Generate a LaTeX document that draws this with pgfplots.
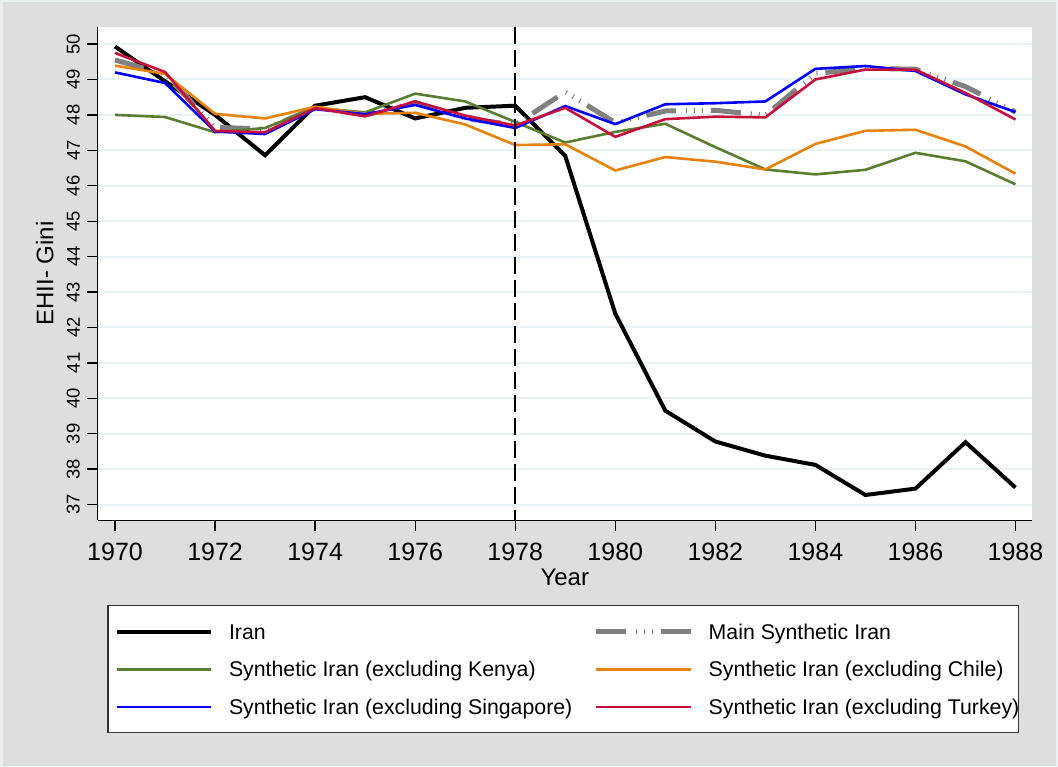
\documentclass[border=0pt]{standalone}
\usepackage{fontspec}
\setmainfont{Liberation Sans}
\usepackage{pgfplots}
\pgfplotsset{compat=1.18}
\definecolor{bggray}{RGB}{222,222,222}
\definecolor{rimcol}{RGB}{234,240,240}
\definecolor{gridcol}{RGB}{234,242,243}
\definecolor{kenya}{RGB}{90,125,50}
\definecolor{chile}{RGB}{232,130,10}
\definecolor{singap}{RGB}{0,0,255}
\definecolor{turkey}{RGB}{200,15,60}
\definecolor{mainsyn}{RGB}{128,128,128}

\begin{document}
\begin{tikzpicture}
\fill[rimcol] (0bp,0bp) rectangle (1058bp,767bp);
\fill[bggray] (2.5bp,1bp) rectangle (1056bp,765bp);
\begin{axis}[
    at={(97.5bp,246.5bp)}, anchor=south west,
    scale only axis, width=934.5bp, height=493.8bp,
    xmin=1969.65, xmax=1988.33, ymin=36.55, ymax=50.49,
    axis x line*=bottom, axis y line*=left,
    axis line style={-, black, line width=1.3bp},
    axis background/.style={fill=white},
    xtick={1970,1972,...,1988}, ytick={37,38,...,50},
    tick align=outside, major tick length=10.5bp,
    tick style={black, line width=1.3bp},
    ymajorgrids, major grid style={gridcol, line width=2bp},
    /pgf/number format/assume math mode=true,
    x tick label style={/pgf/number format/1000 sep={}, font=\fontsize{25bp}{25bp}\selectfont, inner sep=0pt, anchor=north, yshift=-12.3bp},
    y tick label style={font=\fontsize{18.5bp}{18.5bp}\selectfont, xshift=-7bp, rotate=90, anchor=south, inner sep=0pt},
    xlabel={Year}, ylabel={EHII- Gini},
    xlabel style={font=\fontsize{24bp}{24bp}\selectfont, at={(axis description cs:0.5,-0.132)}, anchor=base},
    ylabel style={font=\fontsize{24bp}{24bp}\selectfont, at={(axis description cs:-0.0473,0.5)}, anchor=base},
    legend columns=2, legend cell align=left,
    legend image code/.code={\draw[#1] (0bp,0bp) -- (94.5bp,0bp);},
    legend style={at={(axis description cs:0.0105,-0.1717)}, anchor=north west,
        draw=black!80, line width=1.2bp, fill=white,
        inner xsep=7bp, inner ysep=18.3bp,
        font=\fontsize{21.3bp}{25bp}\selectfont,
        column sep=15.6bp, row sep=22.2bp,
        nodes={inner sep=0pt, text height=15.3bp, text depth=0pt}},
]

\addplot[black, line width=4bp] coordinates {
    (1970,49.93) (1971,48.95) (1972,48.00) (1973,46.86) (1974,48.26)
    (1975,48.50) (1976,47.90) (1977,48.20) (1978,48.26) (1979,46.84)
    (1980,42.39) (1981,39.65) (1982,38.78) (1983,38.38) (1984,38.12)
    (1985,37.27) (1986,37.45) (1987,38.76) (1988,37.48)
};
\addlegendentry{\makebox[349bp][l]{Iran}}

\addplot[mainsyn, line width=5bp, dash pattern=on 30bp off 10bp on 1bp off 7bp on 1bp off 7bp on 1bp off 8bp] coordinates {
    (1970,49.55) (1971,49.15) (1972,47.65) (1973,47.60) (1974,48.20)
    (1975,48.00) (1976,48.35) (1977,47.90) (1978,47.72) (1979,48.65)
    (1980,47.78) (1981,48.11) (1982,48.13) (1983,47.99) (1984,49.17)
    (1985,49.31) (1986,49.29) (1987,48.80) (1988,48.08)
};
\addlegendentry{\makebox[303bp][l]{Main Synthetic Iran}}

\addplot[kenya, line width=2.6bp] coordinates {
    (1970,48.00) (1971,47.94) (1972,47.51) (1973,47.63) (1974,48.20)
    (1975,48.07) (1976,48.60) (1977,48.38) (1978,47.80) (1979,47.22)
    (1980,47.52) (1981,47.75) (1982,47.09) (1983,46.46) (1984,46.32)
    (1985,46.45) (1986,46.93) (1987,46.69) (1988,46.04)
};
\addlegendentry{\makebox[349bp][l]{Synthetic Iran (excluding Kenya)}}

\addplot[chile, line width=2.6bp] coordinates {
    (1970,49.39) (1971,49.16) (1972,48.03) (1973,47.90) (1974,48.23)
    (1975,48.03) (1976,48.06) (1977,47.73) (1978,47.15) (1979,47.17)
    (1980,46.43) (1981,46.81) (1982,46.68) (1983,46.46) (1984,47.18)
    (1985,47.55) (1986,47.58) (1987,47.11) (1988,46.34)
};
\addlegendentry{\makebox[303bp][l]{Synthetic Iran (excluding Chile)}}

\addplot[singap, line width=2.6bp] coordinates {
    (1970,49.20) (1971,48.90) (1972,47.53) (1973,47.46) (1974,48.16)
    (1975,48.02) (1976,48.28) (1977,47.90) (1978,47.63) (1979,48.25)
    (1980,47.74) (1981,48.30) (1982,48.33) (1983,48.38) (1984,49.30)
    (1985,49.38) (1986,49.24) (1987,48.58) (1988,48.08)
};
\addlegendentry{\makebox[349bp][l]{Synthetic Iran (excluding Singapore)}}

\addplot[turkey, line width=2.6bp] coordinates {
    (1970,49.75) (1971,49.21) (1972,47.55) (1973,47.51) (1974,48.19)
    (1975,47.96) (1976,48.38) (1977,47.98) (1978,47.70) (1979,48.20)
    (1980,47.38) (1981,47.88) (1982,47.95) (1983,47.93) (1984,49.00)
    (1985,49.28) (1986,49.28) (1987,48.62) (1988,47.87)
};
\addlegendentry{\makebox[303bp][l]{Synthetic Iran (excluding Turkey)}}

% treatment year
\draw[black, line width=2bp, dash pattern=on 17bp off 6bp] (axis cs:1978,50.49) -- (axis cs:1978,36.55);

\end{axis}
\end{tikzpicture}
\end{document}
